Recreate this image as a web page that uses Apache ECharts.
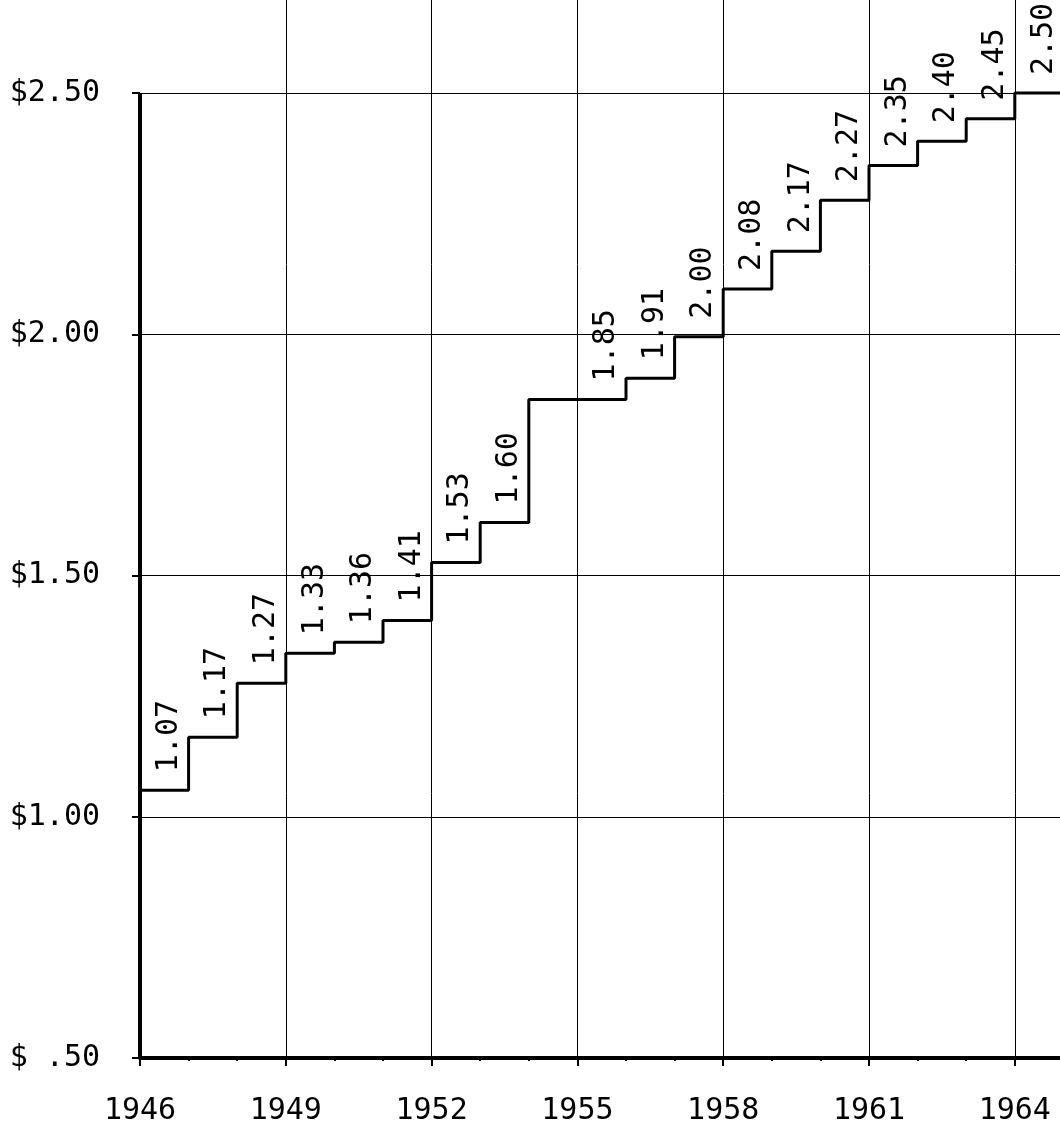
<!DOCTYPE html>
<html>
<head>
<meta charset="utf-8">
<script src="https://cdn.jsdelivr.net/npm/echarts@6/dist/echarts.min.js"></script>
<style>
html,body{margin:0;padding:0;background:#fff;}
#chart{width:1060px;height:1130px;}
</style>
</head>
<body>
<div id="chart"></div>
<script>
// Data
var years = [1946,1947,1948,1949,1950,1951,1952,1953,1954,1955,1956,1957,1958,1959,1960,1961,1962,1963,1964];
var values = [1.055,1.165,1.277,1.339,1.362,1.407,1.527,1.61,1.865,1.865,1.909,1.995,2.094,2.172,2.278,2.35,2.40,2.447,2.50];
var valueLabels = ['1.07','1.17','1.27','1.33','1.36','1.41','1.53','1.60','','1.85','1.91','2.00','2.08','2.17','2.27','2.35','2.40','2.45','2.50'];
var xTickYears = [1946,1949,1952,1955,1958,1961,1964];
var xTickLabels = ['1946','1949','1952','1955','1958','1961','1964'];
var yTickValues = [0.5,1.0,1.5,2.0,2.5];
var yTickLabels = ['$ .50','$1.00','$1.50','$2.00','$2.50'];

var baseYear = years[0];
var FONT = '"DejaVu Sans Mono", "Liberation Mono", monospace';

var stepData = years.map(function(y,i){ return [y-baseYear, values[i]]; });
stepData.push([years[years.length-1]+1-baseYear, values[values.length-1]]);
var labelData = years.map(function(y,i){ return [y-baseYear, values[i], valueLabels[i]]; });
var xTickOffsets = xTickYears.map(function(y){ return y-baseYear; });

var chart = echarts.init(document.getElementById('chart'), null, {renderer:'canvas'});
chart.setOption({
  animation:false,
  backgroundColor:'#fff',
  grid:{left:140, right:0, top:0, bottom:72, containLabel:false},
  xAxis:{
    type:'value', min:0, max:18.93, interval:3,
    axisLine:{show:true, onZero:false, lineStyle:{color:'#000', width:4}},
    axisTick:{show:true, length:8, customValues:xTickOffsets, lineStyle:{color:'#000', width:2}},
    minorTick:{show:true, splitNumber:3, length:3, lineStyle:{color:'#000', width:2}},
    axisLabel:{
      margin:38, color:'#000', fontFamily:FONT, fontSize:30,
      customValues:xTickOffsets,
      formatter:function(v){ for(var i=0;i<xTickOffsets.length;i++){ if(Math.abs(v-xTickOffsets[i])<1e-6) return xTickLabels[i]; } return ''; }
    },
    splitLine:{show:true, showMinLine:false, lineStyle:{color:'#000', width:1}}
  },
  yAxis:{
    type:'value', min:0.5, max:2.693, interval:0.5,
    axisLine:{show:false},
    axisTick:{show:true, length:8, customValues:yTickValues, lineStyle:{color:'#000', width:2}},
    minorTick:{show:false},
    axisLabel:{
      margin:40, color:'#000', fontFamily:FONT, fontSize:30,
      customValues:yTickValues,
      formatter:function(v){ for(var i=0;i<yTickValues.length;i++){ if(Math.abs(v-yTickValues[i])<1e-6) return yTickLabels[i]; } return ''; }
    },
    splitLine:{show:true, showMinLine:false, lineStyle:{color:'#000', width:1}}
  },
  series:[
    {
      type:'line', step:'end', data:stepData, showSymbol:false, symbol:'none',
      lineStyle:{color:'#000', width:3}, clip:true, z:3
    },
    {
      type:'custom', data:labelData, z:4, clip:false,
      markLine:{
        silent:true, symbol:['none','none'], label:{show:false},
        lineStyle:{color:'#000', width:4, type:'solid'},
        data:[[{coord:[0, yTickValues[0]]},{coord:[0, yTickValues[yTickValues.length-1]]}]]
      },
      renderItem:function(params, api){
        var pt = api.coord([api.value(0), api.value(1)]);
        var txt = labelData[params.dataIndex][2];
        return {
          type:'text', x:pt[0]+29, y:pt[1]-18, rotation:Math.PI/2,
          style:{text:txt, fill:'#000', font:'30px '+FONT, textAlign:'left', textVerticalAlign:'middle'}
        };
      }
    }
  ]
});
</script>
</body>
</html>
